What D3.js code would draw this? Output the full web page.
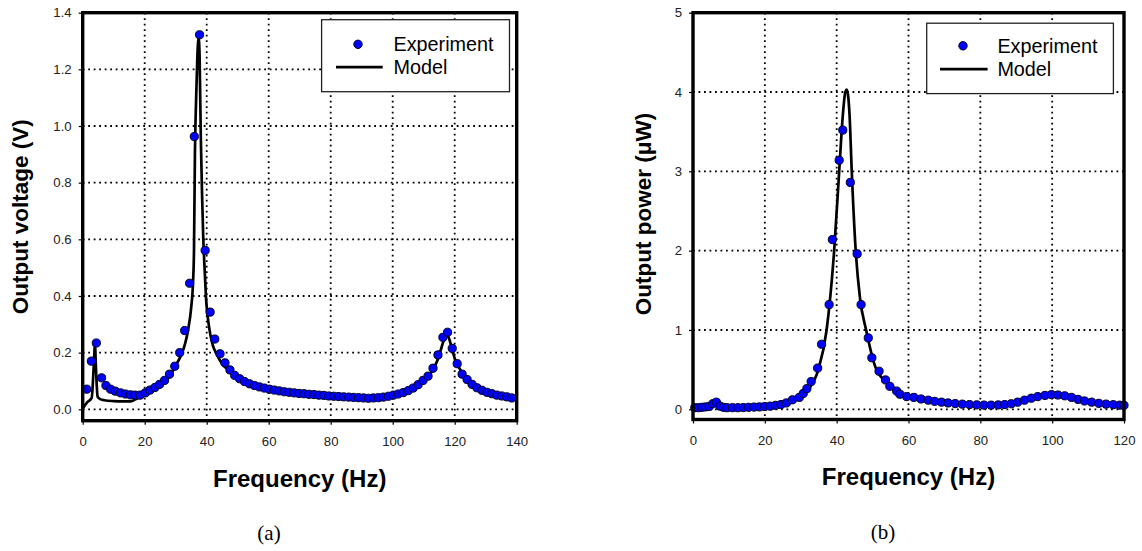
<!DOCTYPE html>
<html><head><meta charset="utf-8">
<script src="https://cdn.jsdelivr.net/npm/d3@7/dist/d3.min.js"></script>
<style>
html,body{margin:0;padding:0;background:#fff;}
svg{display:block;}
</style></head>
<body>
<svg id="chart" width="1142" height="551"></svg>
<script>
// ---------- Data (a): Output voltage ----------
const expA_f = [1.3,2.8,4.4,6.1,7.5,9.0,10.5,12.2,13.8,15.4,16.9,18.5,20.2,21.7,23.3,24.8,26.4,28.0,29.7,31.3,32.9,34.5,36.0,37.7,39.5,41.1,42.6,44.3,45.9,47.5,49.0,50.6,52.2,53.8,55.4,57.0,58.6,60.2,61.8,63.4,65.0,66.6,68.2,69.8,71.4,73.0,74.6,76.2,77.8,79.4,81.0,82.6,84.2,85.8,87.4,89.0,90.6,92.2,93.8,95.4,97.0,98.6,100.2,101.8,103.4,105.0,106.6,108.2,109.8,111.4,113.0,114.6,116.2,117.7,119.2,120.8,122.4,124.0,125.6,127.2,128.8,130.4,132.0,133.6,135.2,136.8,138.4];
const expA_v = [0.071,0.170,0.234,0.111,0.084,0.071,0.064,0.058,0.054,0.051,0.050,0.050,0.058,0.068,0.077,0.088,0.102,0.124,0.152,0.200,0.278,0.445,0.963,1.322,0.561,0.343,0.248,0.196,0.164,0.139,0.120,0.108,0.098,0.090,0.084,0.079,0.075,0.071,0.068,0.065,0.062,0.060,0.058,0.056,0.055,0.053,0.052,0.050,0.049,0.047,0.046,0.045,0.044,0.043,0.042,0.041,0.040,0.039,0.040,0.041,0.043,0.046,0.050,0.054,0.059,0.066,0.075,0.087,0.102,0.117,0.145,0.192,0.254,0.272,0.215,0.161,0.124,0.105,0.088,0.076,0.067,0.060,0.055,0.050,0.047,0.044,0.040];
const modA_f = [0,1.5,2.9,3.6,3.95,4.3,4.8,5.5,7,10,13,15.5,17,19,21,23,25,27,28.5,30,31.5,33,34,35,35.6,35.9,36.2,36.6,37.0,37.4,37.7,38.1,38.5,38.9,39.4,39.8,40.4,41.1,42,43.2,45,47.5,50,55,60,65,70,76.5,80,85,90,93,96,100,103,106,109,111,113,114.5,115.8,116.8,117.4,118,119,120,121.5,123,125,127.5,130,133,136,139];
const modA_v = [0.003,0.025,0.040,0.160,0.228,0.140,0.045,0.037,0.032,0.029,0.028,0.028,0.035,0.047,0.055,0.066,0.080,0.100,0.125,0.155,0.185,0.230,0.280,0.360,0.450,0.560,0.900,1.100,1.250,1.310,1.250,0.960,0.760,0.600,0.480,0.390,0.320,0.268,0.225,0.195,0.160,0.135,0.115,0.090,0.072,0.062,0.055,0.048,0.044,0.040,0.036,0.034,0.036,0.043,0.052,0.066,0.088,0.108,0.140,0.175,0.220,0.255,0.265,0.255,0.220,0.180,0.145,0.120,0.098,0.078,0.064,0.053,0.045,0.039];
const ticksAx = [0,20,40,60,80,100,120,140];
const ticksAy = [0,0.2,0.4,0.6,0.8,1.0,1.2,1.4];

// ---------- Data (b): Output power ----------
const expB_f = [0.5,1.5,2.5,3.5,4.5,5.5,6.5,7.5,8.5,9.5,11,12.5,14,15.5,17,18.5,20,21.5,23,24.5,26,27.7,29.6,30.7,31.7,32.9,34.7,35.8,37.9,38.8,40.7,41.7,43.8,45.7,46.8,48.8,49.8,51.8,53.6,54.8,56.7,57.6,59.5,61.5,63.5,65.5,67.3,69.2,71,73,75,77,79,81,83,85,86.8,88.6,90.4,92.3,94.2,96,98,99.8,101.6,103.5,105.4,107.2,109,111,113,115,117,118.8,120];
const expB_v = [0.02,0.02,0.025,0.03,0.035,0.07,0.09,0.04,0.025,0.02,0.02,0.02,0.022,0.025,0.028,0.03,0.035,0.04,0.05,0.06,0.08,0.12,0.15,0.20,0.26,0.35,0.52,0.82,1.32,2.14,3.14,3.52,2.86,1.96,1.32,0.90,0.65,0.48,0.37,0.29,0.23,0.19,0.16,0.15,0.13,0.115,0.10,0.09,0.08,0.072,0.065,0.06,0.056,0.053,0.052,0.055,0.06,0.07,0.09,0.115,0.14,0.16,0.175,0.185,0.18,0.17,0.15,0.125,0.105,0.09,0.075,0.065,0.058,0.052,0.05];
const modB_f = [0,3,5,6,6.8,7.5,8.5,12,16,20,24,27,29.8,32.1,34.9,37.2,39.3,40.7,41.7,42.4,42.8,43.2,43.6,44.2,45.3,46.5,48.2,51.1,56.7,60.4,65,70,75,80,85,90,95,100,105,110,115,120];
const modB_v = [0.02,0.02,0.04,0.08,0.095,0.05,0.025,0.02,0.02,0.03,0.05,0.09,0.15,0.25,0.5,1.0,2.0,3.0,3.7,4.0,4.03,3.95,3.7,3.0,2.0,1.4,1.0,0.5,0.25,0.15,0.11,0.08,0.06,0.05,0.055,0.09,0.15,0.19,0.16,0.10,0.07,0.05];
const ticksBx = [0,20,40,60,80,100,120];
const ticksBy = [0,1,2,3,4,5];

const svg = d3.select("#chart");
const SANS = "'Liberation Sans', Arial, sans-serif";

function panel(cfg){
  const g = svg.append("g");
  const x = d3.scaleLinear().domain(cfg.xDomain).range([cfg.left, cfg.right]);
  const y = d3.scaleLinear().domain(cfg.yDomain).range([cfg.zeroY, cfg.top]);
  const bottom = cfg.bottom;

  // grid
  const grid = g.append("g").attr("stroke","#000").attr("stroke-width",1.8)
    .attr("stroke-dasharray","1.8,3.7").attr("fill","none");
  cfg.xTicks.slice(1,-1).forEach(t=>{
    grid.append("line").attr("x1",x(t)).attr("x2",x(t)).attr("y1",cfg.top).attr("y2",bottom);
  });
  cfg.yTicks.slice(0,-1).forEach(t=>{
    grid.append("line").attr("x1",cfg.left).attr("x2",cfg.right).attr("y1",y(t)).attr("y2",y(t));
  });

  // model line
  const line = d3.line().x((d,i)=>x(cfg.modF[i])).y((d,i)=>y(cfg.modV[i])).curve(d3.curveMonotoneX);
  g.append("path").datum(cfg.modV).attr("d",line).attr("fill","none")
    .attr("stroke","#000").attr("stroke-width",2.7).attr("stroke-linejoin","round");

  // experiment points
  g.append("g").selectAll("circle").data(cfg.expV).join("circle")
    .attr("cx",(d,i)=>x(cfg.expF[i])).attr("cy",d=>y(d)).attr("r",4.1)
    .attr("fill","#0000ff").attr("stroke","#000022").attr("stroke-width",1);

  // frame
  g.append("rect").attr("x",cfg.left).attr("y",cfg.top)
    .attr("width",cfg.right-cfg.left).attr("height",bottom-cfg.top)
    .attr("fill","none").attr("stroke","#000").attr("stroke-width",3.4);

  // axes
  const ax = g.append("g").attr("transform",`translate(0,${bottom})`)
    .call(d3.axisBottom(x).tickValues(cfg.xTicks).tickSizeOuter(0).tickSize(4).tickPadding(12).tickFormat(d3.format("d")));
  const ay = g.append("g").attr("transform",`translate(${cfg.left},0)`)
    .call(d3.axisLeft(y).tickValues(cfg.yTicks).tickSizeOuter(0).tickSize(4).tickPadding(7).tickFormat(cfg.yFmt));
  [ax,ay].forEach(a=>{
    a.select(".domain").remove();
    a.selectAll("text").attr("font-family",SANS).attr("font-size",13.2).attr("fill","#222");
    a.selectAll("line").attr("stroke","#000").attr("stroke-width",1.2);
  });

  // titles
  g.append("text").attr("x",(cfg.left+cfg.right)/2).attr("y",cfg.xTitleY).attr("dy","0.35em")
    .attr("text-anchor","middle").attr("font-family",SANS).attr("font-weight","bold")
    .attr("font-size",24).text("Frequency (Hz)");
  g.append("text").attr("transform",`translate(${cfg.yTitleX},${cfg.yTitleY}) rotate(-90)`)
    .attr("dy","0.35em").attr("text-anchor","middle").attr("font-family",SANS).attr("font-weight","bold")
    .attr("font-size",22.5).text(cfg.yTitle);
  g.append("text").attr("x",cfg.capX).attr("y",cfg.capY).attr("dy","0.35em")
    .attr("text-anchor","middle").attr("font-family","'Liberation Serif', 'Times New Roman', serif")
    .attr("font-size",21).text(cfg.caption);

  // legend
  const L = cfg.legend;
  const lg = g.append("g");
  lg.append("rect").attr("x",L.x).attr("y",L.y).attr("width",L.w).attr("height",L.h)
    .attr("fill","#fff").attr("stroke","#222").attr("stroke-width",1.3);
  lg.append("circle").attr("cx",L.mx).attr("cy",L.y1).attr("r",4.2)
    .attr("fill","#0000ff").attr("stroke","#000022").attr("stroke-width",1);
  lg.append("line").attr("x1",L.lx1).attr("x2",L.lx2).attr("y1",L.y2).attr("y2",L.y2)
    .attr("stroke","#000").attr("stroke-width",2.7);
  lg.append("text").attr("x",L.tx).attr("y",L.y1).attr("dy","0.35em")
    .attr("font-family",SANS).attr("font-size",19.8).text("Experiment");
  lg.append("text").attr("x",L.tx).attr("y",L.y2).attr("dy","0.35em")
    .attr("font-family",SANS).attr("font-size",19.8).text("Model");
}

panel({
  left:82.7, right:516.7, top:12.7, zeroY:409.3, bottom:420.7,
  xDomain:[0,140], yDomain:[0,1.4], xTicks:ticksAx, yTicks:ticksAy, yFmt:d3.format(".1f"),
  expF:expA_f, expV:expA_v, modF:modA_f, modV:modA_v,
  xTitleY:479, yTitleX:20, yTitleY:216.7, yTitle:"Output voltage (V)",
  capX:269, capY:533, caption:"(a)",
  legend:{x:321.6,y:19.7,w:187.9,h:72, mx:358, lx1:336, lx2:382.7, tx:393.5, y1:44.3, y2:67.1}
});
panel({
  left:693, right:1124, top:12.7, zeroY:409.3, bottom:419.5,
  xDomain:[0,120], yDomain:[0,5], xTicks:ticksBx, yTicks:ticksBy, yFmt:d3.format("d"),
  expF:expB_f, expV:expB_v, modF:modB_f, modV:modB_v,
  xTitleY:477, yTitleX:643, yTitleY:214, yTitle:"Output power (\u03bcW)",
  capX:883, capY:532, caption:"(b)",
  legend:{x:926.7,y:23.2,w:186.7,h:70.4, mx:963, lx1:940, lx2:987.6, tx:997.4, y1:45.8, y2:69.2}
});
</script>
</body></html>
